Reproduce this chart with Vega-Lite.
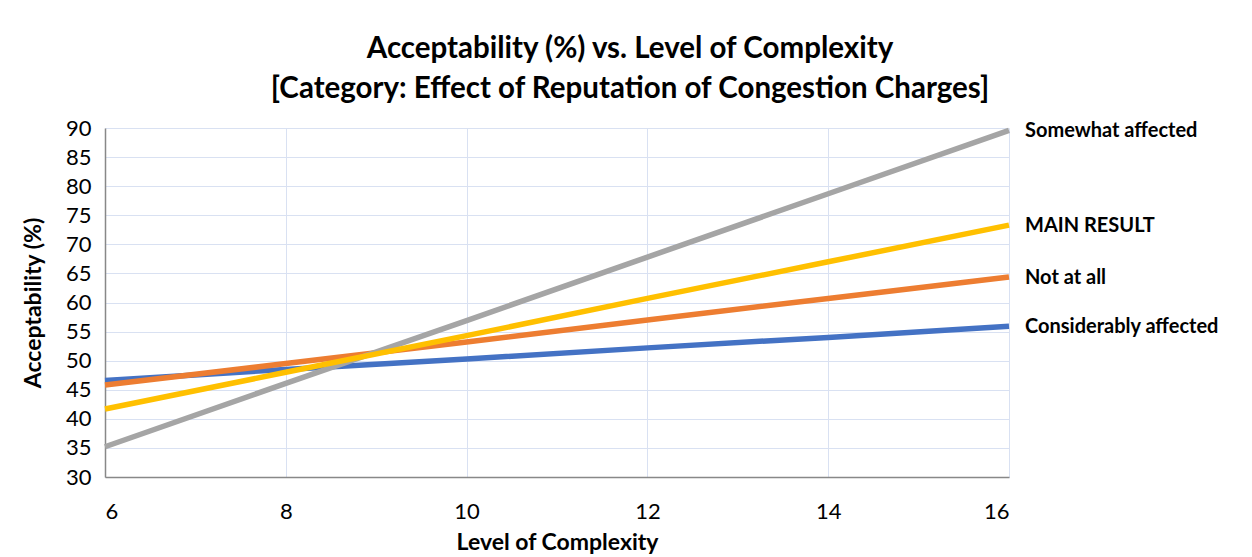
{
  "$schema": "https://vega.github.io/schema/vega-lite/v6.json",
  "width": 904,
  "height": 349,
  "autosize": "none",
  "padding": {"left": 105, "top": 128, "right": 243, "bottom": 80},
  "background": "white",
  "title": {
    "text": ["Acceptability (%) vs. Level of Complexity", "[Category: Effect of Reputation of Congestion Charges]"],
    "font": "Lato",
    "fontSize": 29.5,
    "fontWeight": "bold",
    "color": "#000000",
    "lineHeight": 40,
    "anchor": "middle",
    "dx": 73,
    "offset": 13
  },
  "config": {
    "view": {"stroke": null},
    "font": "Lato"
  },
  "data": {
    "values": [
      {"series": "Considerably affected", "x": 6, "y": 46.6},
      {"series": "Considerably affected", "x": 8, "y": 48.5},
      {"series": "Considerably affected", "x": 10, "y": 50.3},
      {"series": "Considerably affected", "x": 12, "y": 52.2},
      {"series": "Considerably affected", "x": 14, "y": 54.0},
      {"series": "Considerably affected", "x": 16, "y": 55.9},
      {"series": "Not at all", "x": 6, "y": 45.8},
      {"series": "Not at all", "x": 8, "y": 49.5},
      {"series": "Not at all", "x": 10, "y": 53.2},
      {"series": "Not at all", "x": 12, "y": 57.0},
      {"series": "Not at all", "x": 14, "y": 60.7},
      {"series": "Not at all", "x": 16, "y": 64.4},
      {"series": "Somewhat affected", "x": 6, "y": 35.2},
      {"series": "Somewhat affected", "x": 8, "y": 46.1},
      {"series": "Somewhat affected", "x": 10, "y": 56.9},
      {"series": "Somewhat affected", "x": 12, "y": 67.8},
      {"series": "Somewhat affected", "x": 14, "y": 78.7},
      {"series": "Somewhat affected", "x": 16, "y": 89.6},
      {"series": "MAIN RESULT", "x": 6, "y": 41.7},
      {"series": "MAIN RESULT", "x": 8, "y": 48.0},
      {"series": "MAIN RESULT", "x": 10, "y": 54.3},
      {"series": "MAIN RESULT", "x": 12, "y": 60.7},
      {"series": "MAIN RESULT", "x": 14, "y": 67.0},
      {"series": "MAIN RESULT", "x": 16, "y": 73.3}
    ]
  },
  "encoding": {
    "x": {
      "field": "x",
      "type": "quantitative",
      "scale": {"domain": [6, 16], "nice": false, "zero": false},
      "axis": {
        "title": "Level of Complexity",
        "titleFont": "Lato",
        "titleFontSize": 23,
        "titleFontWeight": "bold",
        "titleColor": "#000000",
        "titlePadding": 9,
        "values": [6, 8, 10, 12, 14, 16],
        "labelFont": "Lato",
        "labelFontSize": 22,
        "labelColor": "#000000",
        "labelPadding": 24,
        "ticks": false,
        "domainColor": "#888888",
        "domainWidth": 1.5,
        "gridColor": "#d9e1f2",
        "gridWidth": 1
      }
    },
    "y": {
      "field": "y",
      "type": "quantitative",
      "scale": {"domain": [30, 90], "nice": false, "zero": false},
      "axis": {
        "title": "Acceptability (%)",
        "titleFont": "Lato",
        "titleFontSize": 23,
        "titleFontWeight": "bold",
        "titleColor": "#000000",
        "titlePadding": 20,
        "values": [30, 35, 40, 45, 50, 55, 60, 65, 70, 75, 80, 85, 90],
        "labelFont": "Lato",
        "labelFontSize": 22,
        "labelColor": "#000000",
        "labelPadding": 14,
        "ticks": false,
        "domainColor": "#888888",
        "domainWidth": 1.5,
        "gridColor": "#d9e1f2",
        "gridWidth": 1
      }
    }
  },
  "layer": [
    {
      "mark": {"type": "line", "strokeWidth": 5.5, "strokeCap": "butt"},
      "encoding": {
        "color": {
          "field": "series",
          "type": "nominal",
          "scale": {
            "domain": ["Considerably affected", "Not at all", "Somewhat affected", "MAIN RESULT"],
            "range": ["#4472c4", "#ed7d31", "#a5a5a5", "#ffc000"]
          },
          "legend": null
        }
      }
    },
    {
      "transform": [{"filter": "datum.x == 16"}],
      "mark": {"type": "text", "align": "left", "baseline": "middle", "dx": 16, "dy": 1, "font": "Lato", "fontSize": 20, "fontWeight": "bold", "color": "#000000"},
      "encoding": {"text": {"field": "series"}}
    }
  ]
}
